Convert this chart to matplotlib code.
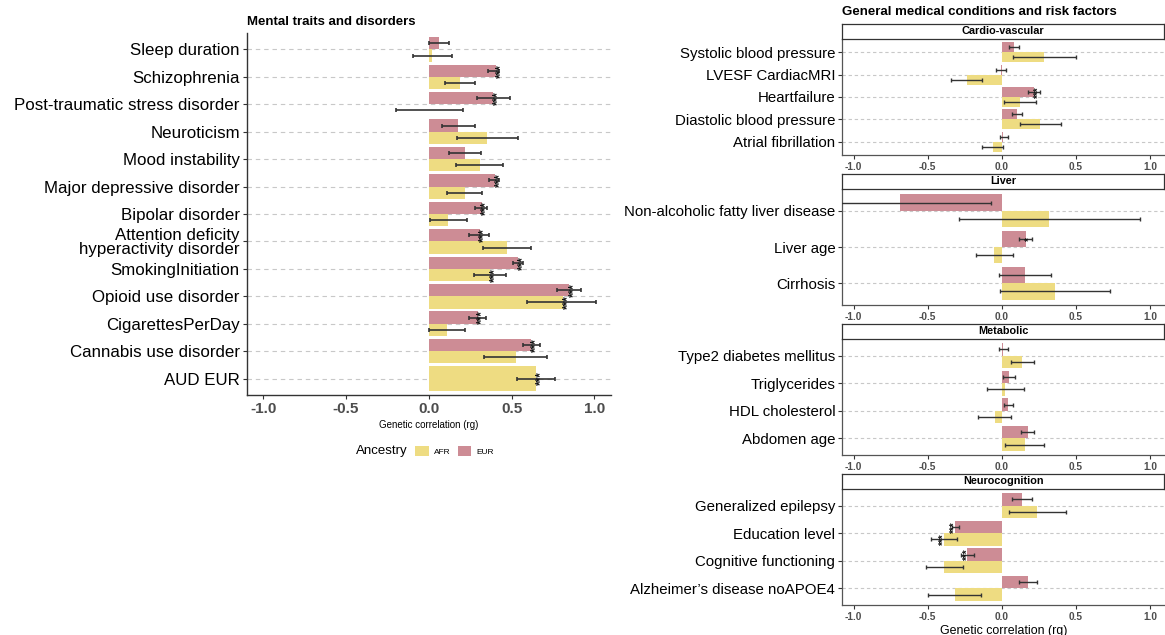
import matplotlib
matplotlib.use('Agg')
import matplotlib.pyplot as plt
from matplotlib.patches import Patch

plt.rcParams['font.family'] = ['Liberation Sans', 'DejaVu Sans']

AFR_COL = '#EEDC82'
EUR_COL = '#CD8C95'
ERR_COL = '#333333'

# ---- Mental traits and disorders ----
mental_traits = ['Sleep duration', 'Schizophrenia', 'Post-traumatic stress disorder',
                 'Neuroticism', 'Mood instability', 'Major depressive disorder',
                 'Bipolar disorder', 'Attention deficity\nhyperactivity disorder',
                 'SmokingInitiation', 'Opioid use disorder', 'CigarettesPerDay',
                 'Cannabis use disorder', 'AUD EUR']
mental_eur = [0.062, 0.406, 0.390, 0.176, 0.218, 0.400, 0.318, 0.306, 0.538, 0.846, 0.294, 0.618, None]
mental_eur_lo = [0.002, 0.360, 0.290, 0.078, 0.124, 0.362, 0.280, 0.242, 0.510, 0.776, 0.240, 0.568, None]
mental_eur_hi = [0.122, 0.422, 0.490, 0.276, 0.314, 0.422, 0.354, 0.366, 0.566, 0.916, 0.346, 0.670, None]
mental_eur_sig = ['', '***', '***', '', '', '***', '***', '***', '***', '***', '***', '***', '']
mental_afr = [0.018, 0.186, 0.003, 0.354, 0.306, 0.216, 0.118, 0.470, 0.368, 0.810, 0.108, 0.526, 0.646]
mental_afr_lo = [-0.098, 0.100, -0.196, 0.170, 0.166, 0.110, 0.006, 0.330, 0.272, 0.590, 0.002, 0.336, 0.530]
mental_afr_hi = [0.140, 0.276, 0.204, 0.538, 0.450, 0.322, 0.230, 0.616, 0.466, 1.010, 0.218, 0.716, 0.762]
mental_afr_sig = ['', '', '', '', '', '', '', '', '***', '***', '', '', '***']

# ---- General medical conditions ----
cardio_traits = ['Systolic blood pressure', 'LVESF CardiacMRI', 'Heartfailure',
                 'Diastolic blood pressure', 'Atrial fibrillation']
cardio_eur = [0.079, -0.007, 0.220, 0.102, 0.011]
cardio_eur_lo = [0.048, -0.042, 0.177, 0.066, -0.013]
cardio_eur_hi = [0.116, 0.030, 0.259, 0.138, 0.043]
cardio_eur_sig = ['', '', '***', '', '']
cardio_afr = [0.288, -0.236, 0.125, 0.259, -0.060]
cardio_afr_lo = [0.077, -0.341, 0.018, 0.122, -0.134]
cardio_afr_hi = [0.499, -0.136, 0.234, 0.397, 0.009]
cardio_afr_sig = ['', '', '', '', '']

liver_traits = ['Non-alcoholic fatty liver disease', 'Liver age', 'Cirrhosis']
liver_eur = [-0.684, 0.161, 0.156]
liver_eur_lo = [-1.300, 0.118, -0.016]
liver_eur_hi = [-0.071, 0.202, 0.333]
liver_eur_sig = ['', '*', '']
liver_afr = [0.317, -0.051, 0.360]
liver_afr_lo = [-0.292, -0.174, -0.009]
liver_afr_hi = [0.934, 0.073, 0.730]
liver_afr_sig = ['', '', '']

metab_traits = ['Type2 diabetes mellitus', 'Triglycerides', 'HDL cholesterol', 'Abdomen age']
metab_eur = [0.011, 0.050, 0.043, 0.175]
metab_eur_lo = [-0.016, 0.011, 0.014, 0.132]
metab_eur_hi = [0.043, 0.088, 0.075, 0.218]
metab_eur_sig = ['', '', '', '']
metab_afr = [0.138, 0.023, -0.047, 0.154]
metab_afr_lo = [0.059, -0.100, -0.158, 0.023]
metab_afr_hi = [0.218, 0.150, 0.061, 0.283]
metab_afr_sig = ['', '', '', '']

neuro_traits = ['Generalized epilepsy', 'Education level', 'Cognitive functioning',
                'Alzheimer\u2019s disease noAPOE4']
neuro_eur = [0.136, -0.316, -0.232, 0.175]
neuro_eur_lo = [0.070, -0.336, -0.272, 0.113]
neuro_eur_hi = [0.204, -0.290, -0.185, 0.238]
neuro_eur_sig = ['', '***', '***', '']
neuro_afr = [0.236, -0.390, -0.388, -0.318]
neuro_afr_lo = [0.048, -0.479, -0.512, -0.497]
neuro_afr_hi = [0.431, -0.303, -0.265, -0.138]
neuro_afr_sig = ['', '***', '', '']


def draw_panel(ax, traits, eur, eur_lo, eur_hi, eur_sig, afr, afr_lo, afr_hi, afr_sig,
               ylab_size, tick_size, star_size, cap, elw, dash):
    n = len(traits)
    for i in range(n):
        ax.axhline(i, color='#C8C8C8', lw=0.8, ls=dash, zorder=0)
    for i in range(n):
        if eur[i] is None:
            # single bar fills whole dodge width
            bars = [(afr[i], afr_lo[i], afr_hi[i], afr_sig[i], AFR_COL, i, 0.9)]
        else:
            bars = [(eur[i], eur_lo[i], eur_hi[i], eur_sig[i], EUR_COL, i - 0.225, 0.45),
                    (afr[i], afr_lo[i], afr_hi[i], afr_sig[i], AFR_COL, i + 0.225, 0.45)]
        for val, lo, hi, sig, col, y, h in bars:
            ax.barh(y, val, height=h, color=col, zorder=2)
            ax.errorbar(val, y, xerr=[[val - lo], [hi - val]], fmt='none',
                        ecolor=ERR_COL, elinewidth=elw, capsize=cap, capthick=elw, zorder=3)
            if sig:
                off = 0.03 if val >= 0 else 0.0
                ax.text(val + off, y, sig, rotation=90, ha='center', va='center',
                        fontsize=star_size, fontweight='bold', color='#111111', zorder=4)
    ax.set_ylim(n - 1 + 0.6, -0.6)
    ax.set_yticks(range(n))
    ax.set_yticklabels(traits, fontsize=ylab_size, color='black', linespacing=0.95)
    ax.set_xticks([-1.0, -0.5, 0.0, 0.5, 1.0])
    ax.set_xticklabels(['-1.0', '-0.5', '0.0', '0.5', '1.0'], fontsize=tick_size,
                       fontweight='bold', color='#4D4D4D')
    ax.tick_params(axis='both', length=3, width=0.8, color='#333333', pad=2)
    for s in ['top', 'right']:
        ax.spines[s].set_visible(False)
    for s in ['left', 'bottom']:
        ax.spines[s].set_color('#333333')
        ax.spines[s].set_linewidth(1.0)
    ax.set_facecolor('white')


fig = plt.figure(figsize=(11.65, 6.35), dpi=100)
W, H = 1165.0, 635.0

# left panel
axL = fig.add_axes([246.7 / W, 1 - 395 / H, (611 - 246.7) / W, 362 / H])
draw_panel(axL, mental_traits, mental_eur, mental_eur_lo, mental_eur_hi, mental_eur_sig,
           mental_afr, mental_afr_lo, mental_afr_hi, mental_afr_sig,
           ylab_size=12.2, tick_size=11, star_size=8.5, cap=1.6, elw=1.2, dash=(0, (4, 3.5)))
axL.set_xlim(-1.1, 1.1)
axL.set_xlabel('Genetic correlation (rg)', fontsize=7, labelpad=3)
axL.set_title('Mental traits and disorders', fontsize=9.5, fontweight='bold', loc='left', pad=6)

# legend
fig.text(356 / W, 1 - 451 / H, 'Ancestry', fontsize=9.5, va='center', ha='left')
handles = [Patch(facecolor=AFR_COL, label='AFR'), Patch(facecolor=EUR_COL, label='EUR')]
fig.legend(handles=handles, loc='center left', bbox_to_anchor=(412 / W, 1 - 451 / H),
           ncol=2, frameon=False, fontsize=6, handlelength=1.6, handleheight=1.6,
           handletextpad=0.6, columnspacing=0.9, borderaxespad=0)

# right panels
right_panels = [
    ('Cardio-vascular', 39, cardio_traits, cardio_eur, cardio_eur_lo, cardio_eur_hi, cardio_eur_sig,
     cardio_afr, cardio_afr_lo, cardio_afr_hi, cardio_afr_sig),
    ('Liver', 189, liver_traits, liver_eur, liver_eur_lo, liver_eur_hi, liver_eur_sig,
     liver_afr, liver_afr_lo, liver_afr_hi, liver_afr_sig),
    ('Metabolic', 339, metab_traits, metab_eur, metab_eur_lo, metab_eur_hi, metab_eur_sig,
     metab_afr, metab_afr_lo, metab_afr_hi, metab_afr_sig),
    ('Neurocognition', 489, neuro_traits, neuro_eur, neuro_eur_lo, neuro_eur_hi, neuro_eur_sig,
     neuro_afr, neuro_afr_lo, neuro_afr_hi, neuro_afr_sig),
]
rx0 = 842.3 / W
rw = (W - 842.3) / W
for k, (name, top, *data) in enumerate(right_panels):
    ax = fig.add_axes([rx0, 1 - (top + 116) / H, rw, 116 / H])
    draw_panel(ax, *data, ylab_size=10.8, tick_size=7.3, star_size=7, cap=1.6, elw=1.0,
               dash=(0, (3, 2.5)))
    ax.set_xlim(-1.076, 1.101)
    for s in ['left', 'bottom']:
        ax.spines[s].set_color('#555555')
        ax.spines[s].set_linewidth(0.9)
    strip = fig.add_axes([rx0, 1 - top / H, rw - 1 / W, 15 / H])
    strip.set_xticks([])
    strip.set_yticks([])
    for s in strip.spines.values():
        s.set_color('#333333')
        s.set_linewidth(0.9)
    strip.text(0.5, 0.5, name, ha='center', va='center', fontsize=7.8, fontweight='bold',
               transform=strip.transAxes)
    if k == len(right_panels) - 1:
        ax.set_xlabel('Genetic correlation (rg)', fontsize=8.9, labelpad=2)

fig.text(842 / W, 1 - 12 / H, 'General medical conditions and risk factors', fontsize=9.5,
         fontweight='bold', va='center', ha='left')

fig.savefig('out.png', dpi=100, facecolor='white')
